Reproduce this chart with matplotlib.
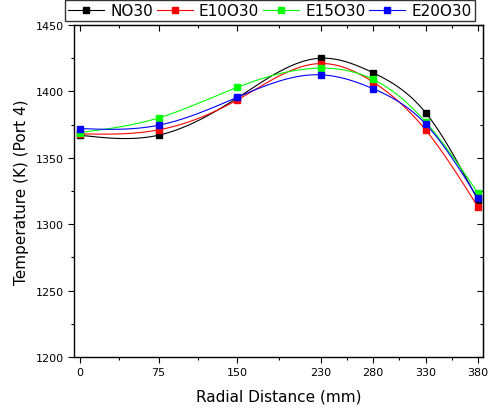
import numpy as np
import matplotlib
matplotlib.use("Agg")
import matplotlib.pyplot as plt
from matplotlib.ticker import MultipleLocator, FixedLocator

x = [0, 75, 150, 230, 280, 330, 380]
series_names = ["NO30", "E10O30", "E15O30", "E20O30"]
no30 = [1367, 1367, 1395, 1425, 1414, 1384, 1318]
e10o30 = [1368, 1371, 1393.5, 1421, 1407, 1371, 1313]
e15o30 = [1369, 1380, 1403, 1417.5, 1409, 1377, 1323.5]
e20o30 = [1372, 1374.5, 1395.5, 1412.5, 1402, 1375.5, 1319.5]
colors = ["black", "red", "#00ff00", "blue"]
xtick_labels = ["0", "75", "150", "230", "280", "330", "380"]


def natural_spline(xs, ys, n=400):
    xs = np.asarray(xs, float); ys = np.asarray(ys, float)
    k = len(xs)
    h = np.diff(xs)
    A = np.zeros((k, k)); b = np.zeros(k)
    A[0, 0] = 1; A[-1, -1] = 1
    for i in range(1, k - 1):
        A[i, i - 1] = h[i - 1]
        A[i, i] = 2 * (h[i - 1] + h[i])
        A[i, i + 1] = h[i]
        b[i] = 6 * ((ys[i + 1] - ys[i]) / h[i] - (ys[i] - ys[i - 1]) / h[i - 1])
    M = np.linalg.solve(A, b)
    xx = np.linspace(xs[0], xs[-1], n)
    yy = np.empty_like(xx)
    for j, xv in enumerate(xx):
        i = min(np.searchsorted(xs, xv, side="right") - 1, k - 2)
        t1 = xs[i + 1] - xv; t0 = xv - xs[i]
        yy[j] = (M[i] * t1**3 + M[i + 1] * t0**3) / (6 * h[i]) \
            + (ys[i] / h[i] - M[i] * h[i] / 6) * t1 \
            + (ys[i + 1] / h[i] - M[i + 1] * h[i] / 6) * t0
    return xx, yy


fig = plt.figure(figsize=(4.94, 4.14), dpi=100)
ax = fig.add_axes([0.1498, 0.1353, 0.8279, 0.8019])

handles = []
for name, ys, c in zip(series_names, [no30, e10o30, e15o30, e20o30], colors):
    xx, yy = natural_spline(x, ys)
    ax.plot(xx, yy, color=c, lw=0.8)
    ax.plot(x, ys, ls="none", marker="s", ms=5, color=c)
    h, = ax.plot([], [], color=c, lw=0.8, marker="s", ms=5, label=name)
    handles.append(h)

ax.set_xlim(-5.7, 384.8)
ax.set_ylim(1200, 1450)
ax.xaxis.set_major_locator(FixedLocator(x))
ax.set_xticklabels(xtick_labels)
mids = [(x[i] + x[i + 1]) / 2 for i in range(len(x) - 1)]
ax.xaxis.set_minor_locator(FixedLocator(mids))
ax.yaxis.set_major_locator(MultipleLocator(50))
ax.yaxis.set_minor_locator(MultipleLocator(25))

ax.tick_params(which="both", direction="out", labelsize=8, width=0.8)
ax.tick_params(which="major", length=4)
ax.tick_params(which="minor", length=2)

ax_top = ax.secondary_xaxis("top")
ax_top.xaxis.set_major_locator(FixedLocator(x))
ax_top.xaxis.set_minor_locator(FixedLocator(mids))
ax_top.tick_params(which="both", direction="in", labeltop=False, width=0.8)
ax_top.tick_params(which="major", length=4)
ax_top.tick_params(which="minor", length=2)
ax_right = ax.secondary_yaxis("right")
ax_right.yaxis.set_major_locator(MultipleLocator(50))
ax_right.yaxis.set_minor_locator(MultipleLocator(25))
ax_right.tick_params(which="both", direction="in", labelright=False, width=0.8)
ax_right.tick_params(which="major", length=4)
ax_right.tick_params(which="minor", length=2)

for s in ax.spines.values():
    s.set_linewidth(1.0)

ax.set_xlabel("Radial Distance (mm)", fontsize=11, labelpad=8)
ax.set_ylabel("Temperature (K) (Port 4)", fontsize=11, labelpad=5)

leg = fig.legend(handles=handles, loc="upper left", bbox_to_anchor=(65 / 494, 1 - 1 / 414),
                 ncol=4, fontsize=11, frameon=True, fancybox=False, edgecolor="black",
                 handlelength=2.35, handletextpad=0.4, columnspacing=0.26, borderpad=0.2,
                 borderaxespad=0)
leg.get_frame().set_linewidth(1.0)

fig.savefig("out.png", dpi=100)
